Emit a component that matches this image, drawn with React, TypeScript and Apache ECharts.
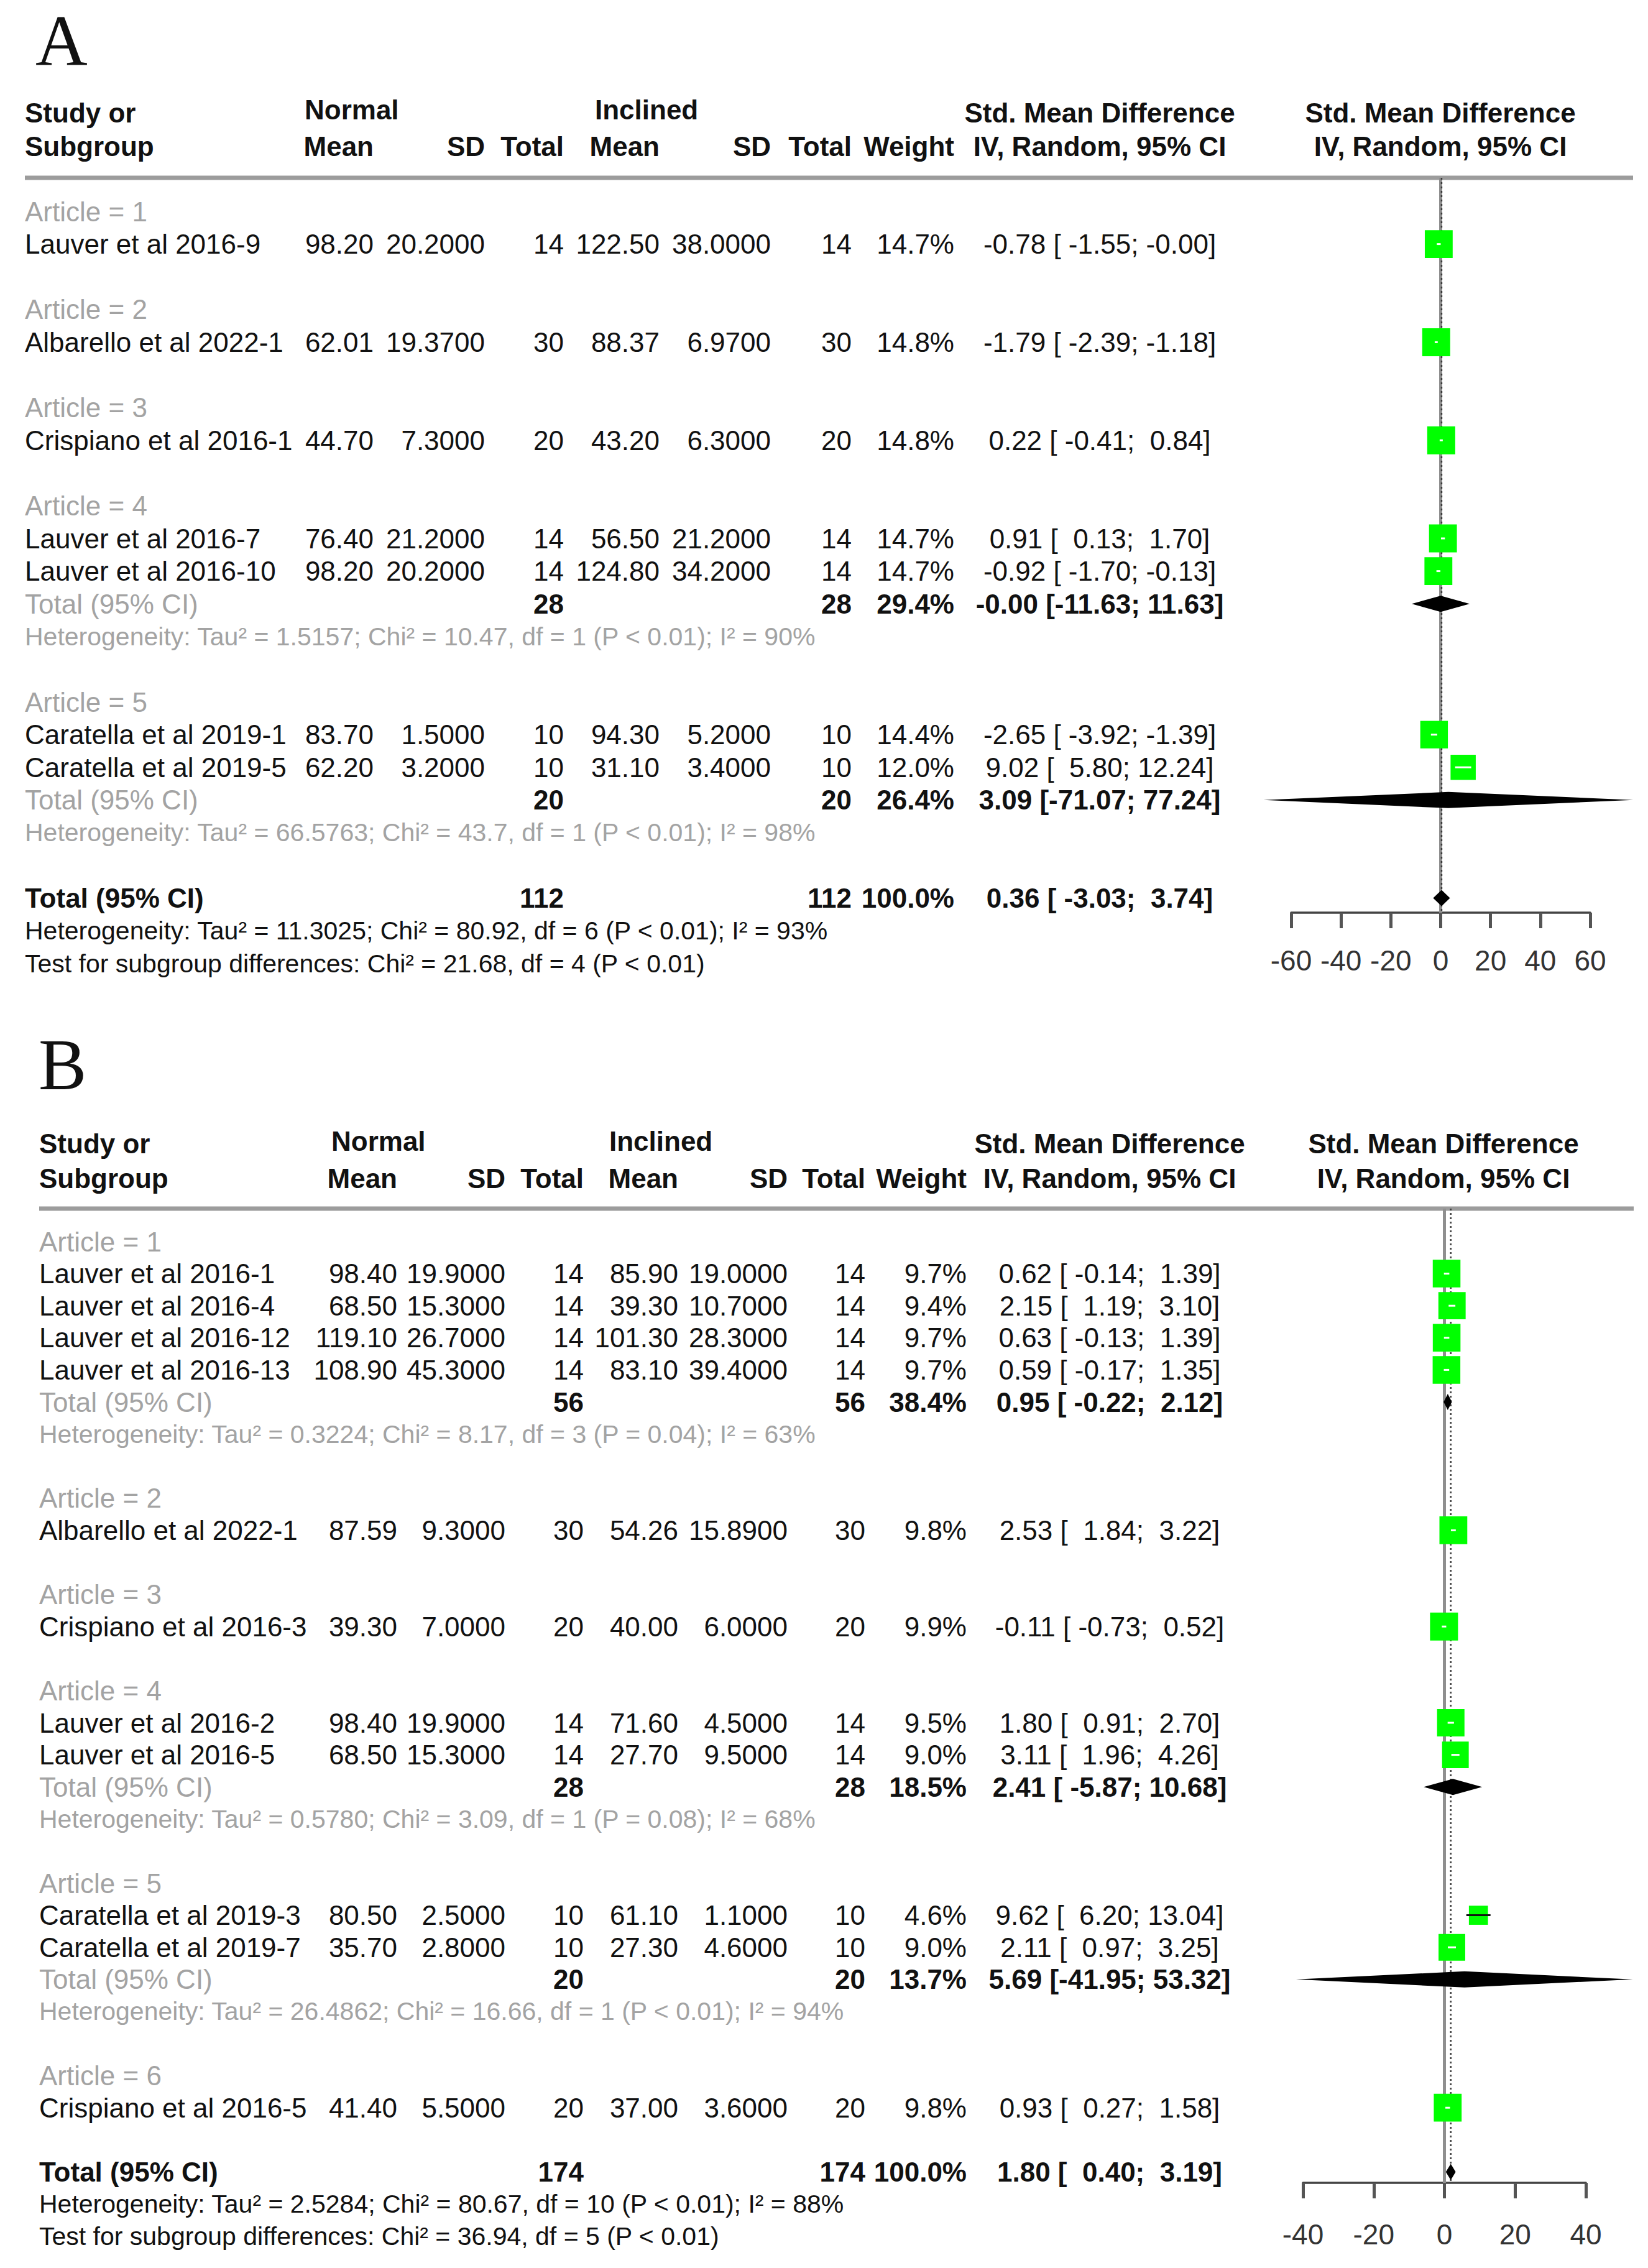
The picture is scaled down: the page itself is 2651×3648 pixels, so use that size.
import React, { useEffect, useRef } from "react";
import * as echarts from "echarts";

// ======================= PANEL A DATA =======================
const aArticle = [1, 2, 3, 4, 4, 5, 5];
const aStudy = [
  "Lauver et al 2016-9",
  "Albarello et al 2022-1",
  "Crispiano et al 2016-1",
  "Lauver et al 2016-7",
  "Lauver et al 2016-10",
  "Caratella et al 2019-1",
  "Caratella et al 2019-5",
];
const aNormMean = [98.2, 62.01, 44.7, 76.4, 98.2, 83.7, 62.2];
const aNormSD = [20.2, 19.37, 7.3, 21.2, 20.2, 1.5, 3.2];
const aNormN = [14, 30, 20, 14, 14, 10, 10];
const aInclMean = [122.5, 88.37, 43.2, 56.5, 124.8, 94.3, 31.1];
const aInclSD = [38.0, 6.97, 6.3, 21.2, 34.2, 5.2, 3.4];
const aInclN = [14, 30, 20, 14, 14, 10, 10];
const aWeight = [14.7, 14.8, 14.8, 14.7, 14.7, 14.4, 12.0];
const aSMD = [-0.78, -1.79, 0.22, 0.91, -0.92, -2.65, 9.02];
const aLower = [-1.55, -2.39, -0.41, 0.13, -1.7, -3.92, 5.8];
const aUpper = [-0.004, -1.18, 0.84, 1.7, -0.13, -1.39, 12.24];
const aSubArticle = [4, 5];
const aSubN1 = [28, 20];
const aSubN2 = [28, 20];
const aSubWeight = [29.4, 26.4];
const aSubSMD = [-0.004, 3.09];
const aSubLower = [-11.63, -71.07];
const aSubUpper = [11.63, 77.24];
const aSubHet = [
  "Heterogeneity: Tau² = 1.5157; Chi² = 10.47, df = 1 (P < 0.01); I² = 90%",
  "Heterogeneity: Tau² = 66.5763; Chi² = 43.7, df = 1 (P < 0.01); I² = 98%",
];
const aTotN = [112, 112];
const aTotWeight = 100.0;
const aTotEffect = [0.36, -3.03, 3.74];
const aTotHet = "Heterogeneity: Tau² = 11.3025; Chi² = 80.92, df = 6 (P < 0.01); I² = 93%";
const aTotTest = "Test for subgroup differences: Chi² = 21.68, df = 4 (P < 0.01)";
const aAxis = [-60, 60, 20];

// ======================= PANEL B DATA =======================
const bArticle = [1, 1, 1, 1, 2, 3, 4, 4, 5, 5, 6];
const bStudy = [
  "Lauver et al 2016-1",
  "Lauver et al 2016-4",
  "Lauver et al 2016-12",
  "Lauver et al 2016-13",
  "Albarello et al 2022-1",
  "Crispiano et al 2016-3",
  "Lauver et al 2016-2",
  "Lauver et al 2016-5",
  "Caratella et al 2019-3",
  "Caratella et al 2019-7",
  "Crispiano et al 2016-5",
];
const bNormMean = [98.4, 68.5, 119.1, 108.9, 87.59, 39.3, 98.4, 68.5, 80.5, 35.7, 41.4];
const bNormSD = [19.9, 15.3, 26.7, 45.3, 9.3, 7.0, 19.9, 15.3, 2.5, 2.8, 5.5];
const bNormN = [14, 14, 14, 14, 30, 20, 14, 14, 10, 10, 20];
const bInclMean = [85.9, 39.3, 101.3, 83.1, 54.26, 40.0, 71.6, 27.7, 61.1, 27.3, 37.0];
const bInclSD = [19.0, 10.7, 28.3, 39.4, 15.89, 6.0, 4.5, 9.5, 1.1, 4.6, 3.6];
const bInclN = [14, 14, 14, 14, 30, 20, 14, 14, 10, 10, 20];
const bWeight = [9.7, 9.4, 9.7, 9.7, 9.8, 9.9, 9.5, 9.0, 4.6, 9.0, 9.8];
const bSMD = [0.62, 2.15, 0.63, 0.59, 2.53, -0.11, 1.8, 3.11, 9.62, 2.11, 0.93];
const bLower = [-0.14, 1.19, -0.13, -0.17, 1.84, -0.73, 0.91, 1.96, 6.2, 0.97, 0.27];
const bUpper = [1.39, 3.1, 1.39, 1.35, 3.22, 0.52, 2.7, 4.26, 13.04, 3.25, 1.58];
const bSubArticle = [1, 4, 5];
const bSubN1 = [56, 28, 20];
const bSubN2 = [56, 28, 20];
const bSubWeight = [38.4, 18.5, 13.7];
const bSubSMD = [0.95, 2.41, 5.69];
const bSubLower = [-0.22, -5.87, -41.95];
const bSubUpper = [2.12, 10.68, 53.32];
const bSubHet = [
  "Heterogeneity: Tau² = 0.3224; Chi² = 8.17, df = 3 (P = 0.04); I² = 63%",
  "Heterogeneity: Tau² = 0.5780; Chi² = 3.09, df = 1 (P = 0.08); I² = 68%",
  "Heterogeneity: Tau² = 26.4862; Chi² = 16.66, df = 1 (P < 0.01); I² = 94%",
];
const bTotN = [174, 174];
const bTotWeight = 100.0;
const bTotEffect = [1.8, 0.4, 3.19];
const bTotHet = "Heterogeneity: Tau² = 2.5284; Chi² = 80.67, df = 10 (P < 0.01); I² = 88%";
const bTotTest = "Test for subgroup differences: Chi² = 36.94, df = 5 (P < 0.01)";
const bAxis = [-40, 40, 20];

// ======================= LABELS =======================
const panelLetters = ["A", "B"];
const headStudy = ["Study or", "Subgroup"];
const headGroups = ["Normal", "Inclined"];
const headCols = ["Mean", "SD", "Total", "Mean", "SD", "Total", "Weight"];
const headEffect = ["Std. Mean Difference", "IV, Random, 95% CI"];
const articlePrefix = "Article = ";
const totalLabel = "Total (95% CI)";
const nullValue = 0;

// ======================= STYLE =======================
const FONT = "'Liberation Sans', Arial, Helvetica, sans-serif";
const SERIF = "'Liberation Serif', 'Times New Roman', serif";
const BLACK = "#111111";
const GRAY = "#a3a3a3";
const GREEN = "#00ff00";
const NB = "\u00a0";

type PanelData = {
  article: number[]; study: string[]; normMean: number[]; normSD: number[]; normN: number[];
  inclMean: number[]; inclSD: number[]; inclN: number[]; weight: number[];
  smd: number[]; lower: number[]; upper: number[];
  subArticle: number[]; subN1: number[]; subN2: number[]; subWeight: number[];
  subSMD: number[]; subLower: number[]; subUpper: number[]; subHet: string[];
  totN: number[]; totWeight: number; totEffect: number[]; totHet: string; totTest: string;
  axis: number[];
};

const panelA: PanelData = {
  article: aArticle, study: aStudy, normMean: aNormMean, normSD: aNormSD, normN: aNormN,
  inclMean: aInclMean, inclSD: aInclSD, inclN: aInclN, weight: aWeight,
  smd: aSMD, lower: aLower, upper: aUpper,
  subArticle: aSubArticle, subN1: aSubN1, subN2: aSubN2, subWeight: aSubWeight,
  subSMD: aSubSMD, subLower: aSubLower, subUpper: aSubUpper, subHet: aSubHet,
  totN: aTotN, totWeight: aTotWeight, totEffect: aTotEffect, totHet: aTotHet, totTest: aTotTest,
  axis: aAxis,
};
const panelB: PanelData = {
  article: bArticle, study: bStudy, normMean: bNormMean, normSD: bNormSD, normN: bNormN,
  inclMean: bInclMean, inclSD: bInclSD, inclN: bInclN, weight: bWeight,
  smd: bSMD, lower: bLower, upper: bUpper,
  subArticle: bSubArticle, subN1: bSubN1, subN2: bSubN2, subWeight: bSubWeight,
  subSMD: bSubSMD, subLower: bSubLower, subUpper: bSubUpper, subHet: bSubHet,
  totN: bTotN, totWeight: bTotWeight, totEffect: bTotEffect, totHet: bTotHet, totTest: bTotTest,
  axis: bAxis,
};

type Layout = {
  letterX: number; letterY: number; head1Y: number; head1bY: number; head2Y: number;
  ruleY: number; ruleX0: number; ruleX1: number; axisY: number; row0Y: number; rowH: number;
  gridLeft: number; gridWidth: number; labelMargin: number;
  study: number; normLeft: number; normMean: number; normSD: number; normN: number;
  inclLeft: number; inclMean: number; inclSD: number; inclN: number; weight: number;
  ciC: number; plotC: number;
};

const layoutA: Layout = {
  letterX: 57, letterY: 66, head1Y: 181, head1bY: 176, head2Y: 235,
  ruleY: 286, ruleX0: 40, ruleX1: 2627, axisY: 1468, row0Y: 340, rowH: 52.6,
  gridLeft: 2077, gridWidth: 481, labelMargin: 54,
  study: 40, normLeft: 490, normMean: 601, normSD: 780, normN: 907,
  inclLeft: 957, inclMean: 1061, inclSD: 1240, inclN: 1370, weight: 1535,
  ciC: 1769, plotC: 2317,
};
const layoutB: Layout = {
  letterX: 62, letterY: 1713, head1Y: 1839, head1bY: 1835, head2Y: 1895,
  ruleY: 1944, ruleX0: 63, ruleX1: 2628, axisY: 3511, row0Y: 1997, rowH: 51.6,
  gridLeft: 2096, gridWidth: 455, labelMargin: 60,
  study: 63, normLeft: 533, normMean: 639, normSD: 813, normN: 939,
  inclLeft: 980, inclMean: 1091, inclSD: 1267, inclN: 1392, weight: 1555,
  ciC: 1785, plotC: 2322,
};

type Row = { kind: string; r: number; i: number };

function buildRows(d: PanelData): Row[] {
  const rows: Row[] = [];
  let r = 0;
  const arts: number[] = [];
  d.article.forEach((a) => { if (arts.indexOf(a) < 0) arts.push(a); });
  arts.forEach((a) => {
    rows.push({ kind: "article", r: r++, i: a });
    d.article.forEach((x, i) => { if (x === a) rows.push({ kind: "study", r: r++, i }); });
    const s = d.subArticle.indexOf(a);
    if (s >= 0) {
      rows.push({ kind: "subtotal", r: r++, i: s });
      rows.push({ kind: "subhet", r: r++, i: s });
    }
    r++;
  });
  rows.push({ kind: "total", r: r++, i: 0 });
  rows.push({ kind: "het", r: r++, i: 0 });
  rows.push({ kind: "test", r: r++, i: 0 });
  return rows;
}

function pad(s: string, n: number) {
  return NB.repeat(Math.max(0, n - s.length)) + s;
}
function fmtCI(est: number, lo: number, hi: number) {
  return est.toFixed(2) + NB + "[" + pad(lo.toFixed(2), 6) + ";" + NB + pad(hi.toFixed(2), 5) + "]";
}

function T(x: number, y: number, text: string, o: any = {}) {
  return {
    type: "text",
    x,
    y,
    silent: true,
    style: {
      text,
      fill: o.color || BLACK,
      fontSize: o.size || 44,
      fontFamily: o.family || FONT,
      fontWeight: o.bold ? "bold" : "normal",
      align: o.align || "left",
      verticalAlign: "middle",
    },
  };
}

function buildPanel(d: PanelData, L: Layout, gi: number) {
  const rows = buildRows(d);
  const studyRow: number[] = [];
  const subRow: number[] = [];
  let totRow = 0;
  rows.forEach((r) => {
    if (r.kind === "study") studyRow[r.i] = r.r;
    if (r.kind === "subtotal") subRow[r.i] = r.r;
    if (r.kind === "total") totRow = r.r;
  });
  const yMin = (L.ruleY - L.row0Y) / L.rowH;
  const yMax = (L.axisY - L.row0Y) / L.rowH;
  const wMax = Math.max(...d.weight);
  const SQ = 45;
  const DIA = 13;
  const HET = 41;

  const grid = {
    show: false,
    left: L.gridLeft,
    top: L.ruleY,
    width: L.gridWidth,
    height: L.axisY - L.ruleY,
    containLabel: false,
  };
  const xAxis = {
    gridIndex: gi,
    type: "value",
    min: d.axis[0],
    max: d.axis[1],
    interval: d.axis[2],
    axisLine: { show: true, onZero: false, lineStyle: { color: "#444", width: 3.5 } },
    axisTick: { show: true, length: 25, lineStyle: { color: "#555", width: 5 } },
    axisLabel: { fontSize: 46, color: "#333", fontFamily: FONT, margin: L.labelMargin },
    splitLine: { show: false },
  };
  const yAxis = { gridIndex: gi, type: "value", inverse: true, min: yMin, max: yMax, show: false };

  const refSeries = {
    type: "custom",
    xAxisIndex: gi,
    yAxisIndex: gi,
    z: 1,
    silent: true,
    clip: false,
    data: [
      [nullValue, yMin, yMax, 0],
      [d.totEffect[0], yMin, yMax, 1],
    ],
    renderItem: (params: any, api: any) => {
      const x = api.value(0);
      const p1 = api.coord([x, api.value(1)]);
      const p2 = api.coord([x, api.value(2)]);
      const dotted = api.value(3) === 1;
      return {
        type: "line",
        shape: { x1: p1[0], y1: p1[1], x2: p2[0], y2: p2[1] },
        style: dotted
          ? { stroke: "#3a3a3a", lineWidth: 2.5, lineDash: [3, 4] }
          : { stroke: "#8f8f8f", lineWidth: 5 },
      };
    },
  };

  const studySeries = {
    type: "custom",
    xAxisIndex: gi,
    yAxisIndex: gi,
    z: 3,
    silent: true,
    clip: false,
    data: d.smd.map((v, i) => [v, studyRow[i], d.lower[i], d.upper[i], d.weight[i]]),
    renderItem: (params: any, api: any) => {
      const row = api.value(1);
      const c = api.coord([api.value(0), row]);
      const pl = api.coord([api.value(2), row]);
      const ph = api.coord([api.value(3), row]);
      const s = SQ * Math.sqrt(api.value(4) / wMax);
      const inside = ph[0] - pl[0] <= s;
      return {
        type: "group",
        children: [
          { type: "rect", shape: { x: c[0] - s / 2, y: c[1] - s / 2, width: s, height: s }, style: { fill: GREEN } },
          {
            type: "line",
            shape: { x1: pl[0], y1: c[1], x2: ph[0], y2: c[1] },
            style: { stroke: inside ? "#ffffff" : "#111111", lineWidth: 3 },
          },
        ],
      };
    },
  };

  const diaData = d.subSMD.map((v, i) => [v, subRow[i], d.subLower[i], d.subUpper[i]]);
  diaData.push([d.totEffect[0], totRow, d.totEffect[1], d.totEffect[2]]);
  const diamondSeries = {
    type: "custom",
    xAxisIndex: gi,
    yAxisIndex: gi,
    z: 4,
    silent: true,
    clip: false,
    data: diaData,
    renderItem: (params: any, api: any) => {
      const row = api.value(1);
      const c = api.coord([api.value(0), row]);
      const pl = api.coord([api.value(2), row]);
      const ph = api.coord([api.value(3), row]);
      return {
        type: "polygon",
        shape: { points: [[pl[0], c[1]], [c[0], c[1] - DIA], [ph[0], c[1]], [c[0], c[1] + DIA]] },
        style: { fill: "#000000" },
      };
    },
  };

  const tableSeries = {
    type: "custom",
    xAxisIndex: gi,
    yAxisIndex: gi,
    z: 5,
    silent: true,
    clip: false,
    data: rows.map((r) => [0, r.r]),
    renderItem: (params: any, api: any) => {
      const row = rows[params.dataIndex];
      const y = api.coord([0, row.r])[1];
      const ch: any[] = [];
      const i = row.i;
      if (row.kind === "article") {
        ch.push(T(L.study, y, articlePrefix + i, { color: GRAY }));
      } else if (row.kind === "study") {
        ch.push(T(L.study, y, d.study[i]));
        ch.push(T(L.normMean, y, d.normMean[i].toFixed(2), { align: "right" }));
        ch.push(T(L.normSD, y, d.normSD[i].toFixed(4), { align: "right" }));
        ch.push(T(L.normN, y, String(d.normN[i]), { align: "right" }));
        ch.push(T(L.inclMean, y, d.inclMean[i].toFixed(2), { align: "right" }));
        ch.push(T(L.inclSD, y, d.inclSD[i].toFixed(4), { align: "right" }));
        ch.push(T(L.inclN, y, String(d.inclN[i]), { align: "right" }));
        ch.push(T(L.weight, y, d.weight[i].toFixed(1) + "%", { align: "right" }));
        ch.push(T(L.ciC, y, fmtCI(d.smd[i], d.lower[i], d.upper[i]), { align: "center" }));
      } else if (row.kind === "subtotal") {
        ch.push(T(L.study, y, totalLabel, { color: GRAY }));
        ch.push(T(L.normN, y, String(d.subN1[i]), { align: "right", bold: true }));
        ch.push(T(L.inclN, y, String(d.subN2[i]), { align: "right", bold: true }));
        ch.push(T(L.weight, y, d.subWeight[i].toFixed(1) + "%", { align: "right", bold: true }));
        ch.push(T(L.ciC, y, fmtCI(d.subSMD[i], d.subLower[i], d.subUpper[i]), { align: "center", bold: true }));
      } else if (row.kind === "subhet") {
        ch.push(T(L.study, y, d.subHet[i], { color: GRAY, size: HET }));
      } else if (row.kind === "total") {
        ch.push(T(L.study, y, totalLabel, { bold: true }));
        ch.push(T(L.normN, y, String(d.totN[0]), { align: "right", bold: true }));
        ch.push(T(L.inclN, y, String(d.totN[1]), { align: "right", bold: true }));
        ch.push(T(L.weight, y, d.totWeight.toFixed(1) + "%", { align: "right", bold: true }));
        ch.push(T(L.ciC, y, fmtCI(d.totEffect[0], d.totEffect[1], d.totEffect[2]), { align: "center", bold: true }));
      } else if (row.kind === "het") {
        ch.push(T(L.study, y, d.totHet, { size: HET }));
      } else if (row.kind === "test") {
        ch.push(T(L.study, y, d.totTest, { size: HET }));
      }
      return { type: "group", children: ch };
    },
  };

  const B = { bold: true };
  const R = { bold: true, align: "right" };
  const Cc = { bold: true, align: "center" };
  const graphics: any[] = [
    T(L.letterX, L.letterY, panelLetters[gi], { size: 116, family: SERIF }),
    T(L.study, L.head1Y, headStudy[0], B),
    T(L.study, L.head2Y, headStudy[1], B),
    T(L.normLeft, L.head1bY, headGroups[0], B),
    T(L.inclLeft, L.head1bY, headGroups[1], B),
    T(L.normMean, L.head2Y, headCols[0], R),
    T(L.normSD, L.head2Y, headCols[1], R),
    T(L.normN, L.head2Y, headCols[2], R),
    T(L.inclMean, L.head2Y, headCols[3], R),
    T(L.inclSD, L.head2Y, headCols[4], R),
    T(L.inclN, L.head2Y, headCols[5], R),
    T(L.weight, L.head2Y, headCols[6], R),
    T(L.ciC, L.head1Y, headEffect[0], Cc),
    T(L.ciC, L.head2Y, headEffect[1], Cc),
    T(L.plotC, L.head1Y, headEffect[0], Cc),
    T(L.plotC, L.head2Y, headEffect[1], Cc),
    {
      type: "line",
      silent: true,
      shape: { x1: L.ruleX0, y1: L.ruleY, x2: L.ruleX1, y2: L.ruleY },
      style: { stroke: "#9c9c9c", lineWidth: 7 },
    },
  ];

  return { grid, xAxis, yAxis, series: [refSeries, studySeries, diamondSeries, tableSeries], graphics };
}

function buildOption() {
  const A = buildPanel(panelA, layoutA, 0);
  const Bp = buildPanel(panelB, layoutB, 1);
  return {
    animation: false,
    backgroundColor: "#ffffff",
    grid: [A.grid, Bp.grid],
    xAxis: [A.xAxis, Bp.xAxis],
    yAxis: [A.yAxis, Bp.yAxis],
    series: [...A.series, ...Bp.series],
    graphic: { elements: [...A.graphics, ...Bp.graphics] },
  };
}

export default function App() {
  const ref = useRef<HTMLDivElement>(null);
  useEffect(() => {
    if (!ref.current) return;
    const chart = echarts.init(ref.current, null, { renderer: "svg" });
    chart.setOption(buildOption() as any);
    return () => chart.dispose();
  }, []);
  return (
    <div
      ref={ref}
      style={{ position: "absolute", left: 0, top: 0, width: 2651, height: 3648, background: "#ffffff" }}
    />
  );
}
